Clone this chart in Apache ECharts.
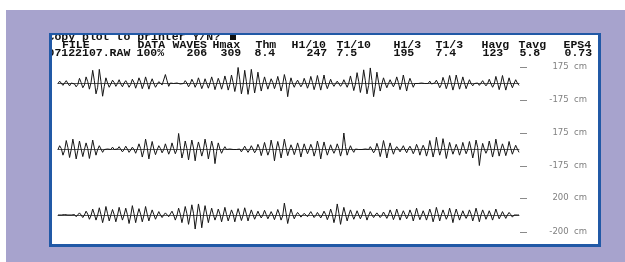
<!DOCTYPE html>
<html><head><meta charset="utf-8">
<script src="https://cdn.jsdelivr.net/npm/echarts@6/dist/echarts.min.js"></script>
<style>html,body{margin:0;padding:0;background:#fff}#c{width:625px;height:262px}</style>
</head><body><div id="c"></div>
<script>
// ---- data ----
const promptText = 'Copy plot to printer Y/N?';
const statNames  = ['FILE','DATA','WAVES','Hmax','Thm','H1/10','T1/10','H1/3','T1/3','Havg','Tavg','EPS4'];
const statValues = ['07122107.RAW','100%','206','309','8.4','247','7.5','195','7.4','123','5.8','0.73'];
const axisRanges = [175, 175, 200];   // cm, symmetric y ranges of the three traces
const unitLabel = 'cm';

// surface elevation (cm)
const trace1 = [
  0,25,5,-20,  -5,30,0,-25,  5,20,-5,-35,  -10,55,10,-45,  -15,70,20,-60,
  10,140,30,-110,  -40,150,20,-135,  -30,60,5,-40,  -5,35,10,-30,  0,40,-5,-35,
  5,30,0,-40,  -10,45,10,-50,  0,60,15,-55,  -5,70,10,-60,  5,50,0,-40,
  -10,20,5,-15,  0,95,30,-30,  5,15,0,-10,  5,10,-5,-15,  0,30,5,-35,
  -5,45,10,-40,  0,60,5,-55,  -10,50,0,-50,  5,70,10,-65,  -5,55,5,-60,
  0,80,15,-70,  -10,90,10,-85,  0,170,40,-110,  -20,140,20,-115,  -10,150,30,-100,
  -5,120,10,-80,  0,70,5,-60,  -5,50,10,-55,  0,75,5,-80,  -10,95,20,-140,
  -20,60,0,-40,  5,35,0,-35,  -5,55,5,-50,  0,75,10,-65,  -5,85,5,-70,
  5,90,0,-55,  -5,45,0,-30,  0,25,5,-30,  -5,40,0,-40,  5,80,5,-75,
  -5,115,20,-95,  -5,145,30,-110,  -20,165,30,-140,  -30,120,15,-80,  -5,60,5,-45,
  0,40,0,-35,  5,70,10,-65,  -5,90,5,-80,  0,55,10,-40,  0,20,0,-10,
  5,15,0,-10,  0,25,-5,-15,  5,35,0,-45,  -10,65,10,-55,  0,85,5,-70,
  -5,90,15,-60,  0,70,5,-55,  -5,40,0,-25,  0,20,5,-20,  5,30,0,-25,
  0,45,0,-40,  -5,75,10,-65,  0,85,5,-70,  -5,60,0,-45,  0,40,5,-20
];
const trace2 = [
  0,40,10,-60,  -10,95,20,-85,  0,110,15,-100,  -10,90,5,-75,  0,70,10,-95,
  -5,100,15,-60,  0,40,5,-30,  0,20,5,-15,  0,25,0,-20,  5,30,0,-25,
  0,35,5,-30,  -5,25,0,-40,  5,60,10,-80,  -10,110,20,-100,  0,85,5,-55,
  -5,40,10,-35,  0,60,5,-50,  -5,70,10,-45,  0,170,40,-90,  -20,90,10,-110,
  -5,100,15,-120,  0,80,10,-70,  -5,110,20,-100,  -10,90,15,-150,  -20,70,5,-40,
  0,30,0,-20,  5,25,0,-15,  0,20,5,-25,  -5,35,0,-30,  0,40,5,-35,
  -5,55,10,-65,  0,75,5,-60,  -10,100,15,-120,  -5,85,10,-90,  0,110,20,-65,
  -5,50,5,-55,  0,70,10,-80,  -5,60,5,-45,  0,55,10,-70,  -10,90,15,-100,
  0,80,5,-60,  -5,50,0,-40,  0,60,10,-70,  -5,175,30,-60,  -5,40,0,-30,
  5,25,0,-20,  0,20,5,-15,  0,30,0,-35,  -5,65,10,-75,  0,95,15,-90,
  -5,70,5,-50,  0,30,5,-25,  -5,40,0,-35,  5,35,0,-45,  -5,55,10,-60,
  0,45,5,-70,  -10,95,15,-80,  -5,130,25,-60,  0,115,20,-95,  -10,75,10,-50,
  0,55,5,-60,  -5,75,10,-45,  0,85,5,-90,  -10,100,20,-170,  -30,65,5,-40,
  0,90,10,-80,  -5,110,15,-70,  0,60,5,-65,  -5,85,10,-50,  0,45,5,-30
];
const trace3 = [
  0,15,0,-10,  5,20,0,-15,  0,10,5,-20,  -5,25,0,-30,  0,45,10,-50,
  -5,70,10,-60,  0,85,5,-90,  -10,100,15,-70,  0,65,5,-80,  -5,90,10,-60,
  0,80,5,-100,  -10,110,15,-90,  0,75,10,-80,  -5,100,10,-70,  0,60,5,-50,
  -5,40,0,-30,  0,25,5,-20,  -5,45,0,-60,  -5,80,10,-90,  0,100,15,-110,
  -5,120,20,-165,  -20,130,25,-150,  -10,110,10,-90,  0,80,5,-60,  -5,70,10,-80,
  0,90,5,-70,  -5,60,10,-80,  0,75,5,-65,  -5,85,10,-70,  0,60,5,-50,
  -5,45,0,-35,  0,55,5,-45,  -5,40,0,-55,  0,65,10,-60,  -10,140,25,-100,
  -10,70,5,-45,  0,30,5,-25,  -5,20,0,-20,  0,40,5,-30,  -5,30,0,-35,
  0,45,5,-55,  -5,70,10,-90,  -10,130,20,-110,  -5,90,10,-70,  0,60,5,-50,
  -5,50,0,-45,  0,70,10,-60,  -5,40,0,-30,  0,25,5,-30,  -5,35,0,-40,
  0,60,10,-55,  -5,70,5,-60,  0,50,5,-45,  -5,60,10,-70,  0,80,5,-55,
  -5,50,0,-60,  0,70,10,-80,  -10,90,15,-70,  0,60,5,-50,  -5,80,10,-90,
  0,70,5,-60,  -5,50,0,-40,  0,60,10,-70,  -5,80,5,-80,  0,60,10,-50,
  -5,50,0,-60,  0,70,10,-45,  -5,40,0,-40,  0,30,5,-25,  0,20,0,0
];
const traces = [trace1, trace2, trace3];

// ---- layout ----
const gridTops = [67, 133, 198];
const gridHeights = [33, 33, 34];
const nameX  = [62, 137.5, 172.5, 212.5, 255.5, 291.5, 336.5, 393.5, 435.5, 481.5, 518.5, 563.5];
const valueX = [47.5, 136.5, 186.5, 220.5, 254.5, 306.5, 336.5, 393.5, 435.5, 482.5, 519.5, 564.5];
const monoFont = 'bold 11.5px "Liberation Mono", "DejaVu Sans Mono", monospace';
const purple = '#a7a3cd';

const chart = echarts.init(document.getElementById('c'), null, {renderer: 'canvas'});

const grids = [], xAxes = [], yAxes = [], series = [];
traces.forEach((t, i) => {
  grids.push({left: 58, right: 106, top: gridTops[i], height: gridHeights[i]});
  xAxes.push({
    gridIndex: i, type: 'category', boundaryGap: false,
    data: t.map((_, k) => k),
    axisLine: {show: true, onZero: true, lineStyle: {color: '#555', width: 1}},
    axisTick: {show: false}, axisLabel: {show: false}, splitLine: {show: false}
  });
  const R = axisRanges[i];
  yAxes.push({
    gridIndex: i, type: 'value', min: -R, max: R, interval: 2 * R,
    position: 'right', offset: 1,
    axisLine: {show: false}, splitLine: {show: false},
    axisTick: {show: true, length: 7, lineStyle: {color: '#8a8a8a', width: 1}},
    axisLabel: {
      formatter: v => v + '  ' + unitLabel, align: 'right', margin: 67,
      fontFamily: 'DejaVu Sans', fontSize: 8.5, color: '#808080'
    }
  });
  series.push({
    type: 'line', xAxisIndex: i, yAxisIndex: i, data: t,
    showSymbol: false, symbol: 'none', silent: true,
    lineStyle: {color: '#161616', width: 1}
  });
});

const graphics = [
  {type: 'rect', z: 0, shape: {x: 6, y: 10, width: 619, height: 252}, style: {fill: purple}},
  {type: 'rect', z: 0, z2: 1, shape: {x: 49, y: 33, width: 552, height: 214}, style: {fill: '#ffffff'}},
  {type: 'text', z: 1, x: 47.5, y: 37.5, style: {text: promptText, font: monoFont, fill: '#111', verticalAlign: 'middle'}},
  {type: 'rect', z: 1, shape: {x: 230, y: 33, width: 6, height: 7}, style: {fill: '#111'}}
];
statNames.forEach((s, k) => graphics.push({type: 'text', z: 1, x: nameX[k], y: 45.5,
  style: {text: s, font: monoFont, fill: '#111', verticalAlign: 'middle'}}));
statValues.forEach((s, k) => graphics.push({type: 'text', z: 1, x: valueX[k], y: 53.5,
  style: {text: s, font: monoFont, fill: '#111', verticalAlign: 'middle'}}));
// purple covers so the leftmost / topmost characters are cut at the panel edge
graphics.push(
  {type: 'rect', z: 4, shape: {x: 6, y: 28, width: 43, height: 36}, style: {fill: purple}},
  {type: 'rect', z: 4, shape: {x: 49, y: 26, width: 552, height: 7}, style: {fill: purple}}
);
// panel border
const borderColor = '#2159a6';
graphics.push(
  {type: 'rect', z: 5, shape: {x: 49, y: 33, width: 3, height: 214}, style: {fill: borderColor}},
  {type: 'rect', z: 5, shape: {x: 49, y: 33, width: 552, height: 2}, style: {fill: borderColor}},
  {type: 'rect', z: 5, shape: {x: 598, y: 33, width: 3, height: 214}, style: {fill: borderColor}},
  {type: 'rect', z: 5, shape: {x: 49, y: 244, width: 552, height: 3}, style: {fill: borderColor}}
);

chart.setOption({
  animation: false,
  backgroundColor: '#ffffff',
  grid: grids, xAxis: xAxes, yAxis: yAxes, series: series,
  graphic: graphics
});
</script></body></html>
